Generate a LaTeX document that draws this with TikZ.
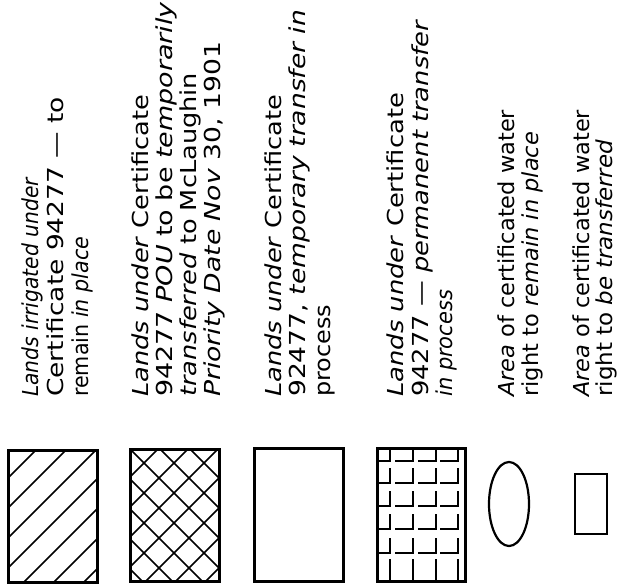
\documentclass[tikz,border=0pt]{standalone}
\usepackage{fontspec}
\setmainfont{DejaVu Sans}[ItalicFont={DejaVu Sans Oblique}]
\usepackage{graphicx}
\newcommand\legline[4]{\node[txt] (#1) at (#2,397) {\resizebox{#3pt}{\height}{#4}};}
\begin{document}
\begin{tikzpicture}[x=1pt,y=-1pt,
  frame/.style={line width=2.6pt},
  hatch/.style={line width=1.5pt},
  txt/.style={rotate=90,anchor=base west,inner sep=0pt,font=\fontsize{22pt}{26pt}\selectfont}]
\useasboundingbox (0,0) rectangle (619,584);
% swatch 1: diagonal hatch
\begin{scope}
  \clip (7,449) rectangle (96,581);
  \foreach \c in {486,516,...,666} \draw[hatch] ({\c-600},600) -- ({\c-400},400);
\end{scope}
\node[frame,draw,minimum width=89pt,minimum height=132pt,inner sep=0pt,anchor=north west] (s1) at (7,449) {};
% swatch 2: cross hatch
\begin{scope}
  \clip (129,448) rectangle (218,580);
  \foreach \c in {577,607,...,787} \draw[hatch] ({\c-600},600) -- ({\c-400},400);
  \foreach \d in {-439,-409,...,-259} \draw[hatch] ({\d+400},400) -- ({\d+600},600);
\end{scope}
\node[frame,draw,minimum width=89pt,minimum height=132pt,inner sep=0pt,anchor=north west] (s2) at (129,448) {};
% swatch 3: empty
\node[frame,draw,minimum width=89pt,minimum height=133pt,inner sep=0pt,anchor=north west] (s3) at (253,447) {};
% swatch 4: grid of corner marks
\foreach \xv/\xl in {390/376,413/395,436/418,458/440}{
  \foreach \yh/\yt in {461/447,483/468,506/491,529/514,553/538}{
    \draw[hatch] (\xl,\yh) -- (\xv,\yh) -- (\xv,\yt);
  }
  \draw[hatch] (\xv,580) -- (\xv,559);
}
\node[frame,draw,minimum width=88pt,minimum height=133pt,inner sep=0pt,anchor=north west] (s4) at (376,447) {};
% swatch 5: ellipse
\draw[line width=2.2pt] (509,504) ellipse [x radius=20pt, y radius=42pt];
\coordinate (s5) at (509,504);
% swatch 6: small rectangle
\node[frame,draw,line width=2.4pt,minimum width=32pt,minimum height=60pt,inner sep=0pt,anchor=north west] (s6) at (574,473) {};
% texts
\legline{g1a}{38}{220}{\textit{Lands irrigated under}}
\legline{g1b}{63}{300}{Certificate 94277 — to}
\legline{g1c}{88}{160}{remain \textit{in place}}
\legline{g2a}{148}{302}{\textit{Lands under} Certificate}
\legline{g2b}{172}{395}{94277 \textit{POU} to be \textit{temporarily}}
\legline{g2c}{196}{324}{\textit{transferred} to McLaughin}
\legline{g2d}{220}{355}{\textit{Priority Date Nov} 30, 1901}
\legline{g3a}{281}{302}{\textit{Lands under} Certificate}
\legline{g3b}{305}{387}{92477, \textit{temporary transfer in}}
\legline{g3c}{330}{92}{process}
\legline{g4a}{403}{304}{\textit{Lands under} Certificate}
\legline{g4b}{428}{377}{94277 — \textit{permanent transfer}}
\legline{g4c}{452}{107}{\textit{in process}}
\legline{g5a}{514}{287}{\textit{Area} of certificated water}
\legline{g5b}{538}{265}{right to \textit{remain in place}}
\legline{g6a}{589}{287}{\textit{Area} of certificated water}
\legline{g6b}{612}{257}{right to \textit{be transferred}}
\end{tikzpicture}
\end{document}
